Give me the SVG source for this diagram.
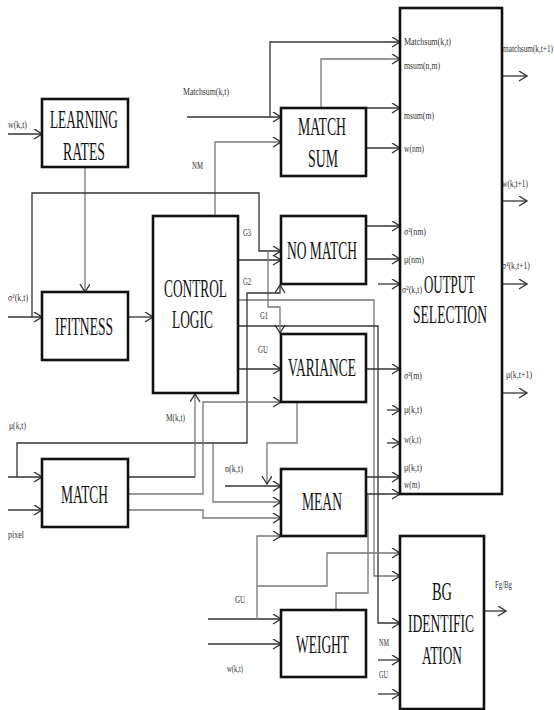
<svg xmlns="http://www.w3.org/2000/svg" width="554" height="710" viewBox="0 0 554 710">
<defs>
<style>
.box{fill:#fff;stroke:#111;stroke-width:2.6}
.t{font-family:"Liberation Serif","Times New Roman",serif;font-size:25px;fill:#111}
.s{font-family:"Liberation Serif","Times New Roman",serif;font-size:10px;fill:#333}
.w{fill:none;stroke:#333;stroke-width:1.3}
.g{fill:none;stroke:#777;stroke-width:1.3}
</style>
<marker id="a" markerUnits="userSpaceOnUse" markerWidth="12" markerHeight="12" refX="9" refY="5" orient="auto">
<path d="M1,0 L9,5 L1,10" fill="none" stroke="#333" stroke-width="1.4"/>
</marker>
</defs>
<rect width="554" height="710" fill="#fff"/>

<g id="connectors">
<path class="w" d="M8,134 H42" marker-end="url(#a)"/>
<path class="w" d="M187,117 H281" marker-end="url(#a)"/>
<path class="w" d="M270,117 V42 H400" marker-end="url(#a)"/>
<path class="g" d="M215,216 V142 H281" marker-end="url(#a)"/>
<path class="g" d="M321,108 V59 H400" marker-end="url(#a)"/>
<path class="w" d="M366,108 H400" marker-end="url(#a)"/>
<path class="w" d="M366,148 H400" marker-end="url(#a)"/>
<path class="g" d="M85,167 V292" marker-end="url(#a)"/>
<path class="w" d="M8,317 H42" marker-end="url(#a)"/>
<path class="w" d="M32,317 V193 H259 V251 H281" marker-end="url(#a)"/>
<path class="w" d="M128,317 H153" marker-end="url(#a)"/>
<path class="w" d="M238,260 H281" marker-end="url(#a)"/>
<path class="w" d="M366,226 H400" marker-end="url(#a)"/>
<path class="w" d="M366,259 H400" marker-end="url(#a)"/>
<path class="w" d="M378,284 H400" marker-end="url(#a)"/>
<path class="g" d="M238,300 H374 V576 H400" marker-end="url(#a)"/>
<path class="w" d="M238,326 H378 V623 H400" marker-end="url(#a)"/>
<path class="w" d="M238,369 H281" marker-end="url(#a)"/>
<path class="g" d="M268,251 V307 H280 V333" marker-end="url(#a)"/>
<path class="w" d="M8,477 H42" marker-end="url(#a)"/>
<path class="w" d="M17,477 V443 H247 V293 H280 V285" marker-end="url(#a)"/>
<path class="g" d="M213,443 V502 H281" marker-end="url(#a)"/>
<path class="w" d="M128,477 H195"/>
<path class="g" d="M195,477 V394" marker-end="url(#a)"/>
<path class="g" d="M128,494 H203 V402 H281" marker-end="url(#a)"/>
<path class="g" d="M128,510 H203 V518 H281" marker-end="url(#a)"/>
<path class="w" d="M8,510 H42" marker-end="url(#a)"/>
<path class="w" d="M366,369 H400" marker-end="url(#a)"/>
<path class="g" d="M297,402 V443 H267 V484" marker-end="url(#a)"/>
<path class="w" d="M225,486 H281" marker-end="url(#a)"/>
<path class="w" d="M366,477 H400" marker-end="url(#a)"/>
<path class="w" d="M366,494 H400" marker-end="url(#a)"/>
<path class="g" d="M368,494 V593 H336 V609"/>
<path class="w" d="M208,619 H281" marker-end="url(#a)"/>
<path class="g" d="M257,619 V536 H281" marker-end="url(#a)"/>
<path class="w" d="M208,644 H281" marker-end="url(#a)"/>
<path class="g" d="M257,586 H327 V553 H400" marker-end="url(#a)"/>
<path class="w" d="M378,660 H400" marker-end="url(#a)"/>
<path class="w" d="M378,694 H400" marker-end="url(#a)"/>
<path class="w" d="M484,611 H506" marker-end="url(#a)"/>
<path class="w" d="M502,76 H527" marker-end="url(#a)"/>
<path class="w" d="M502,201 H527" marker-end="url(#a)"/>
<path class="w" d="M502,284 H527" marker-end="url(#a)"/>
<path class="w" d="M502,393 H527" marker-end="url(#a)"/>
<path class="w" d="M387,410 H400" marker-end="url(#a)"/>
<path class="w" d="M387,443 H400" marker-end="url(#a)"/>
</g>

<g id="learning-rates">
<rect class="box" x="42" y="99" width="86" height="68"/>
<text class="t" transform="translate(50,128) scale(0.55,1)" textLength="123.6" lengthAdjust="spacingAndGlyphs">LEARNING</text>
<text class="t" transform="translate(63,160) scale(0.55,1)" textLength="76.4" lengthAdjust="spacingAndGlyphs">RATES</text>
</g>
<g id="match-sum">
<rect class="box" x="281" y="108" width="85" height="68"/>
<text class="t" transform="translate(298,135) scale(0.55,1)" textLength="87.3" lengthAdjust="spacingAndGlyphs">MATCH</text>
<text class="t" transform="translate(308,167) scale(0.55,1)" textLength="54.5" lengthAdjust="spacingAndGlyphs">SUM</text>
</g>
<g id="ifitness">
<rect class="box" x="42" y="292" width="86" height="68"/>
<text class="t" transform="translate(55,335) scale(0.55,1)" textLength="105.5" lengthAdjust="spacingAndGlyphs">IFITNESS</text>
</g>
<g id="control-logic">
<rect class="box" x="153" y="216" width="85" height="177"/>
<text class="t" transform="translate(164,297) scale(0.55,1)" textLength="114.5" lengthAdjust="spacingAndGlyphs">CONTROL</text>
<text class="t" transform="translate(172,328) scale(0.55,1)" textLength="74.5" lengthAdjust="spacingAndGlyphs">LOGIC</text>
</g>
<g id="no-match">
<rect class="box" x="281" y="216" width="85" height="68"/>
<text class="t" transform="translate(287,259) scale(0.55,1)" textLength="127.3" lengthAdjust="spacingAndGlyphs">NO MATCH</text>
</g>
<g id="variance">
<rect class="box" x="281" y="334" width="85" height="68"/>
<text class="t" transform="translate(288,376) scale(0.55,1)" textLength="123.6" lengthAdjust="spacingAndGlyphs">VARIANCE</text>
</g>
<g id="match">
<rect class="box" x="42" y="459" width="86" height="68"/>
<text class="t" transform="translate(61,503) scale(0.55,1)" textLength="85.5" lengthAdjust="spacingAndGlyphs">MATCH</text>
</g>
<g id="mean">
<rect class="box" x="281" y="469" width="85" height="67"/>
<text class="t" transform="translate(302,510) scale(0.55,1)" textLength="72.7" lengthAdjust="spacingAndGlyphs">MEAN</text>
</g>
<g id="weight">
<rect class="box" x="281" y="610" width="85" height="67"/>
<text class="t" transform="translate(296,653) scale(0.55,1)" textLength="96.4" lengthAdjust="spacingAndGlyphs">WEIGHT</text>
</g>
<g id="bg-identification">
<rect class="box" x="400" y="536" width="84" height="173"/>
<text class="t" transform="translate(432,600) scale(0.55,1)" textLength="36.4" lengthAdjust="spacingAndGlyphs">BG</text>
<text class="t" transform="translate(408,632) scale(0.55,1)" textLength="120" lengthAdjust="spacingAndGlyphs">IDENTIFIC</text>
<text class="t" transform="translate(422,664) scale(0.55,1)" textLength="72.7" lengthAdjust="spacingAndGlyphs">ATION</text>
</g>
<g id="output-selection">
<rect class="box" x="400" y="8" width="102" height="486"/>
<text class="t" transform="translate(424,293) scale(0.55,1)" textLength="92.7" lengthAdjust="spacingAndGlyphs">OUTPUT</text>
<text class="t" transform="translate(413,323) scale(0.55,1)" textLength="134.5" lengthAdjust="spacingAndGlyphs">SELECTION</text>
<text class="s" transform="translate(404,45) scale(0.75,1)" textLength="62.7" lengthAdjust="spacingAndGlyphs">Matchsum(k,t)</text>
<text class="s" transform="translate(404,69) scale(0.75,1)" textLength="48" lengthAdjust="spacingAndGlyphs">msum(n,m)</text>
<text class="s" transform="translate(404,119) scale(0.75,1)" textLength="40" lengthAdjust="spacingAndGlyphs">msum(m)</text>
<text class="s" transform="translate(404,152) scale(0.75,1)" textLength="26.7" lengthAdjust="spacingAndGlyphs">w(nm)</text>
<text class="s" transform="translate(404,235) scale(0.75,1)" textLength="29.3" lengthAdjust="spacingAndGlyphs">σ²(nm)</text>
<text class="s" transform="translate(404,263) scale(0.75,1)" textLength="26.7" lengthAdjust="spacingAndGlyphs">μ(nm)</text>
<text class="s" transform="translate(402,293) scale(0.75,1)" textLength="26.7" lengthAdjust="spacingAndGlyphs" font-size="8">σ²(k,t)</text>
<text class="s" transform="translate(404,379) scale(0.75,1)" textLength="24" lengthAdjust="spacingAndGlyphs">σ²(m)</text>
<text class="s" transform="translate(404,413) scale(0.75,1)" textLength="24" lengthAdjust="spacingAndGlyphs">μ(k,t)</text>
<text class="s" transform="translate(404,443) scale(0.75,1)" textLength="22.7" lengthAdjust="spacingAndGlyphs">w(k,t)</text>
<text class="s" transform="translate(404,471) scale(0.75,1)" textLength="24" lengthAdjust="spacingAndGlyphs">μ(k,t)</text>
<text class="s" transform="translate(404,488) scale(0.75,1)" textLength="21.3" lengthAdjust="spacingAndGlyphs">w(m)</text>
</g>

<g id="labels">
<text class="s" transform="translate(8,128) scale(0.75,1)" textLength="25.3" lengthAdjust="spacingAndGlyphs">w(k,t)</text>
<text class="s" transform="translate(183,95) scale(0.75,1)" textLength="61.3" lengthAdjust="spacingAndGlyphs">Matchsum(k,t)</text>
<text class="s" transform="translate(192,169) scale(0.75,1)" textLength="14.7" lengthAdjust="spacingAndGlyphs">NM</text>
<text class="s" transform="translate(8,301) scale(0.75,1)" textLength="26.7" lengthAdjust="spacingAndGlyphs">σ²(k,t)</text>
<text class="s" transform="translate(243,236) scale(0.75,1)" textLength="10.7" lengthAdjust="spacingAndGlyphs">G3</text>
<text class="s" transform="translate(243,285) scale(0.75,1)" textLength="10.7" lengthAdjust="spacingAndGlyphs">G2</text>
<text class="s" transform="translate(260,319) scale(0.75,1)" textLength="10.7" lengthAdjust="spacingAndGlyphs">G1</text>
<text class="s" transform="translate(258,353) scale(0.75,1)" textLength="13.3" lengthAdjust="spacingAndGlyphs">GU</text>
<text class="s" transform="translate(166,421) scale(0.75,1)" textLength="25.3" lengthAdjust="spacingAndGlyphs">M(k,t)</text>
<text class="s" transform="translate(9,429) scale(0.75,1)" textLength="22.7" lengthAdjust="spacingAndGlyphs">μ(k,t)</text>
<text class="s" transform="translate(8,538) scale(0.75,1)" textLength="21.3" lengthAdjust="spacingAndGlyphs">pixel</text>
<text class="s" transform="translate(225,472) scale(0.75,1)" textLength="24" lengthAdjust="spacingAndGlyphs">n(k,t)</text>
<text class="s" transform="translate(235,603) scale(0.75,1)" textLength="13.3" lengthAdjust="spacingAndGlyphs">GU</text>
<text class="s" transform="translate(227,672) scale(0.75,1)" textLength="21.3" lengthAdjust="spacingAndGlyphs">w(k,t)</text>
<text class="s" transform="translate(379,646) scale(0.75,1)" textLength="13.3" lengthAdjust="spacingAndGlyphs">NM</text>
<text class="s" transform="translate(379,678) scale(0.75,1)" textLength="12" lengthAdjust="spacingAndGlyphs">GU</text>
<text class="s" transform="translate(495,588) scale(0.75,1)" textLength="22.7" lengthAdjust="spacingAndGlyphs">Fg/Bg</text>
<text class="s" transform="translate(503,52) scale(0.75,1)" textLength="66.7" lengthAdjust="spacingAndGlyphs">matchsum(k,t+1)</text>
<text class="s" transform="translate(502,187) scale(0.75,1)" textLength="34.7" lengthAdjust="spacingAndGlyphs">w(k,t+1)</text>
<text class="s" transform="translate(502,269) scale(0.75,1)" textLength="37.3" lengthAdjust="spacingAndGlyphs">σ²(k,t+1)</text>
<text class="s" transform="translate(506,378) scale(0.75,1)" textLength="34.7" lengthAdjust="spacingAndGlyphs">μ(k,t+1)</text>
</g>
</svg>
